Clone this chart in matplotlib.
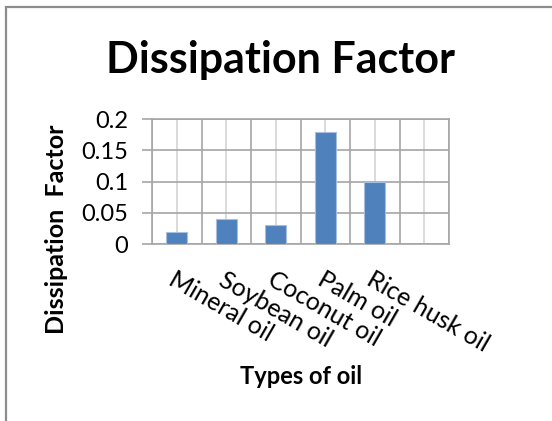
import numpy as np
import matplotlib
matplotlib.use("Agg")
import matplotlib.pyplot as plt
from matplotlib.patches import Rectangle
from matplotlib.ticker import FixedLocator

plt.rcParams['font.family'] = ['Lato', 'DejaVu Sans']

oils = ["Mineral oil", "Soybean oil", "Coconut oil", "Palm oil", "Rice husk oil"]
dissipation = [0.02, 0.04, 0.03, 0.18, 0.10]
n_slots = 6  # one empty slot on the right
yticks = [0, 0.05, 0.1, 0.15, 0.2]
ytick_labels = ["0", "0.05", "0.1", "0.15", "0.2"]

W, H = 552, 421
fig = plt.figure(figsize=(W / 100, H / 100), dpi=100)

# outer chart frame (left and top edges visible)
fig.patches.append(Rectangle((6 / W, -0.1), 1.2, (H - 7) / H + 0.1,
                             transform=fig.transFigure, fill=False,
                             edgecolor="#8c8c8c", linewidth=1.6))

ax = fig.add_axes([152 / W, 1 - 244 / H, (449 - 152) / W, (244 - 119) / H])

x = np.arange(len(oils))
ax.bar(x, dissipation, width=0.42, color="#4f81bd", edgecolor="#a7bfde",
       linewidth=0.8, zorder=3)

ax.set_xlim(-0.5, n_slots - 0.5)
ax.set_ylim(0, 0.2)

# gridlines: dark at slot edges, light at slot centres
ax.xaxis.set_major_locator(FixedLocator(np.arange(n_slots)))
ax.xaxis.set_minor_locator(FixedLocator(np.arange(n_slots + 1) - 0.5))
ax.grid(True, which="minor", axis="x", color="#a6a6a6", linewidth=1.2, zorder=1)
ax.grid(True, which="major", axis="x", color="#d4d4d4", linewidth=1.2, zorder=0)
ax.yaxis.set_major_locator(FixedLocator(yticks))
ax.grid(True, which="major", axis="y", color="#a6a6a6", linewidth=1.2, zorder=1)

for s in ax.spines.values():
    s.set_color("#a6a6a6")
    s.set_linewidth(1.2)

ax.set_yticklabels(ytick_labels, fontsize=17)
ax.tick_params(axis="y", length=7, width=1.2, color="#a6a6a6", pad=10)
ax.tick_params(axis="x", which="both", length=0)
ax.set_xticks(np.arange(n_slots))
ax.set_xticklabels(oils + [""], fontsize=18, rotation=-30, ha="left",
                   va="top", rotation_mode="anchor")
ax.tick_params(axis="x", pad=17)

fig.text(280 / W, 1 - 60 / H, "Dissipation Factor", fontsize=31,
         fontweight="bold", ha="center", va="center")
fig.text(57 / W, 1 - 229 / H, "Dissipation  Factor", fontsize=18,
         fontweight="bold", ha="center", va="center", rotation=90)
fig.text(301 / W, 1 - 377 / H, "Types of oil", fontsize=17,
         fontweight="bold", ha="center", va="center")

fig.savefig("out.png", dpi=100, facecolor="white")
